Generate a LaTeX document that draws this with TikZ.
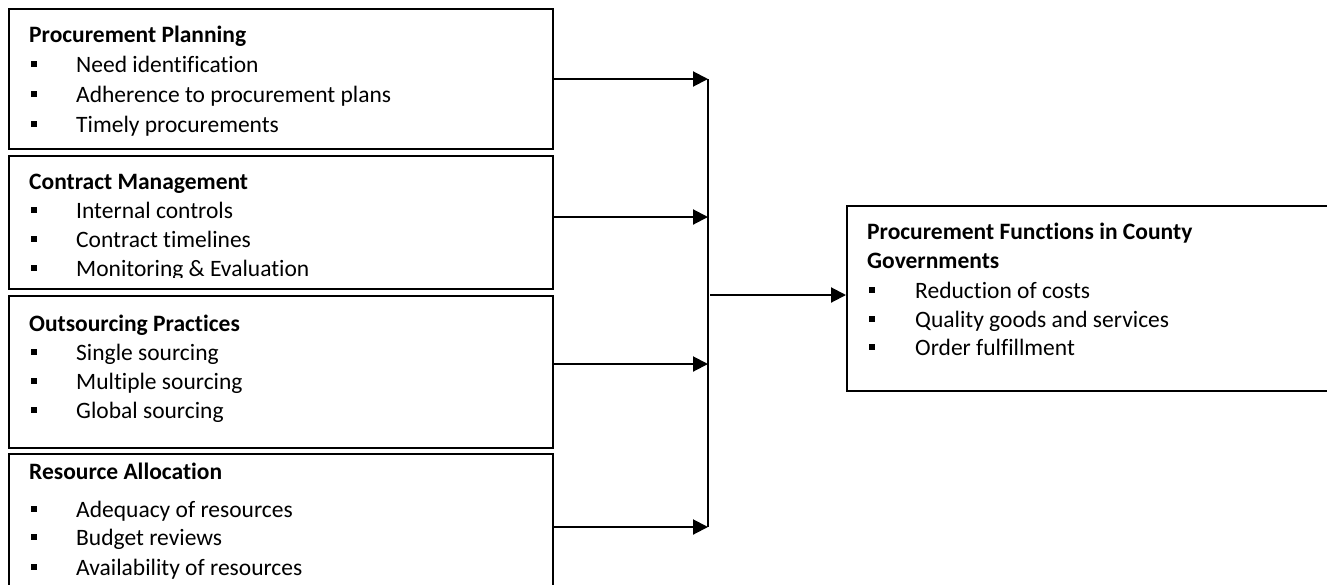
\documentclass[tikz,border=0pt]{standalone}
\usepackage{fontspec}
\setmainfont{Carlito}[Ligatures={NoCommon,NoContextual}]
\usetikzlibrary{arrows.meta}
\begin{document}
\begin{tikzpicture}[x=1pt,y=-1pt,
  box/.style={draw, line width=2pt, rectangle, anchor=north west, inner sep=0pt},
  ttl/.style={anchor=base west, inner sep=0pt, font=\fontsize{23.5}{28}\selectfont\bfseries},
  itm/.style={anchor=base west, inner sep=0pt, font=\fontsize{23.5}{28}\selectfont},
  bul/.style={fill, rectangle, minimum size=6pt, inner sep=0pt, anchor=center},
  arr/.style={line width=2pt, -{Triangle[length=15pt,width=15pt]}},
  bus/.style={line width=2pt}]
\clip (0,0) rectangle (1327,584);
\fill[white] (0,0) rectangle (1327,584);
% boxes
\node[box, minimum width=544pt, minimum height=140pt] (b1) at (8,8) {};
\node[box, minimum width=544pt, minimum height=133pt] (b2) at (8,155) {};
\node[box, minimum width=544pt, minimum height=152pt] (b3) at (8,295) {};
\node[box, minimum width=544pt, minimum height=150pt] (b4) at (8,453) {};
\node[box, minimum width=500pt, minimum height=185pt] (r) at (846,205) {};
% box 1
\node[ttl] (t1) at (29,42) {Procurement Planning};
\node[bul] (u11) at (34,64) {}; \node[itm] (i11) at (76,72) {Need identification};
\node[bul] (u12) at (34,94) {}; \node[itm] (i12) at (76,102) {Adherence to procurement plans};
\node[bul] (u13) at (34,124) {}; \node[itm] (i13) at (76,132) {Timely procurements};
% box 2
\node[ttl] (t2) at (29,189) {Contract Management};
\node[bul] (u21) at (34,210) {}; \node[itm] (i21) at (76,218) {Internal controls};
\node[bul] (u22) at (34,239) {}; \node[itm] (i22) at (76,247) {Contract timelines};
\begin{scope}
\clip (8,155) rectangle (552,277.5);
\node[bul] (u23) at (34,268) {}; \node[itm] (i23) at (76,276) {Monitoring \& Evaluation};
\end{scope}
% box 3
\node[ttl] (t3) at (29,331) {Outsourcing Practices};
\node[bul] (u31) at (34,352) {}; \node[itm] (i31) at (76,360) {Single sourcing};
\node[bul] (u32) at (34,381) {}; \node[itm] (i32) at (76,389) {Multiple sourcing};
\node[bul] (u33) at (34,410) {}; \node[itm] (i33) at (76,418) {Global sourcing};
% box 4
\node[ttl] (t4) at (29,479) {Resource Allocation};
\node[bul] (u41) at (34,509) {}; \node[itm] (i41) at (76,517) {Adequacy of resources};
\node[bul] (u42) at (34,537) {}; \node[itm] (i42) at (76,545) {Budget reviews};
\node[bul] (u43) at (34,567) {}; \node[itm] (i43) at (76,575) {Availability of resources};
% right box
\node[ttl] (tr1) at (867,239) {Procurement Functions in County};
\node[ttl] (tr2) at (867,268) {Governments};
\node[bul] (ur1) at (872,290) {}; \node[itm] (ir1) at (915,298) {Reduction of costs};
\node[bul] (ur2) at (872,319) {}; \node[itm] (ir2) at (915,327) {Quality goods and services};
\node[bul] (ur3) at (872,347) {}; \node[itm] (ir3) at (915,355) {Order fulfillment};
% connectors
\coordinate (k1) at (708,79);
\coordinate (k2) at (708,217);
\coordinate (k3) at (708,364);
\coordinate (k4) at (708,527);
\coordinate (m) at (710,295);
\draw[arr] (b1.east |- k1) -- (k1);
\draw[arr] (b2.east |- k2) -- (k2);
\draw[arr] (b3.east |- k3) -- (k3);
\draw[arr] (b4.east |- k4) -- (k4);
\draw[bus] (k1) -- (k4);
\draw[arr] (m) -- (r.west |- m);
\end{tikzpicture}
\end{document}
